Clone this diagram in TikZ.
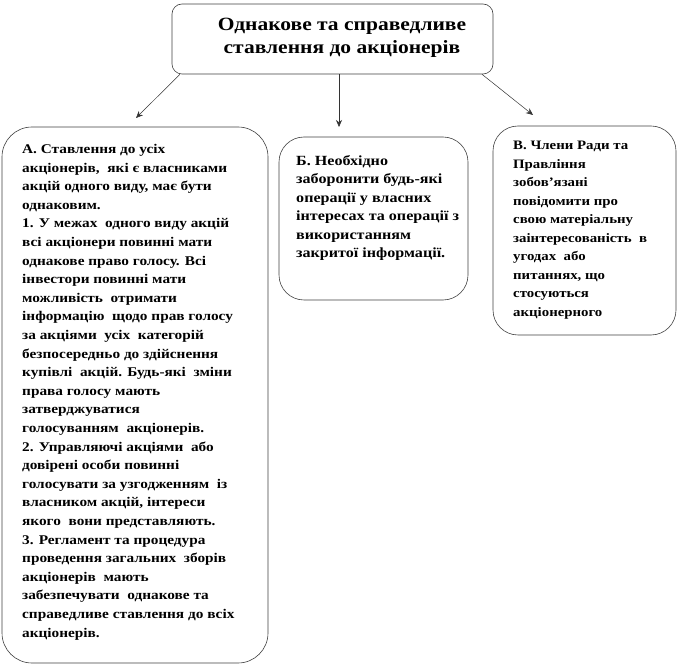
\documentclass[tikz,border=0pt]{standalone}
\usepackage{fontspec}
\setmainfont{Liberation Serif}[FakeStretch=1.15]
\usetikzlibrary{arrows.meta}
\tikzset{
  box/.style={draw=black!75, line width=0.6pt, fill=white},
  body/.style={anchor=north west, inner sep=0pt, align=left},
  conn/.style={draw=black!80, line width=0.5pt, -{Stealth[length=7pt,width=6pt]}},
}
\begin{document}
\begin{tikzpicture}[x=1pt,y=-1pt]
\useasboundingbox (0,0) rectangle (678,668);
% top box
\node[box, rounded corners=10pt, minimum width=321pt, minimum height=70pt] (top) at (332.5,39) {};
\node[align=center, inner sep=0pt, font=\bfseries\fontsize{18.7}{22.5}\selectfont] (toptext) at (342,38)
  {Однакове та справедливе\\ставлення до акціонерів};
% box A
\node[box, rounded corners=30pt, minimum width=266pt, minimum height=536pt] (a) at (135,395) {};
\node[body, font=\bfseries\fontsize{13.3}{18.6}\selectfont] (at) at (22,144) {А. Ставлення до усіх\\
акціонерів, \ які є власниками\\
акцій одного виду, має бути\\
однаковим.\\
1. У межах \ одного виду акцій\\
всі акціонери повинні мати\\
однакове право голосу. Всі\\
інвестори повинні мати\\
можливість \ отримати\\
інформацію \ щодо прав голосу\\
за акціями \ усіх \ категорій\\
безпосередньо до здійснення\\
купівлі \ акцій. Будь-які \ зміни\\
права голосу мають\\
затверджуватися\\
голосуванням \ акціонерів.\\
2. Управляючі акціями \ або\\
довірені особи повинні\\
голосувати за узгодженням \ із\\
власником акцій, інтереси\\
якого \ вони представляють.\\
3. Регламент та процедура\\
проведення загальних \ зборів\\
акціонерів \ мають\\
забезпечувати \ однакове та\\
справедливе ставлення до всіх\\
акціонерів.};
% box B
\node[box, rounded corners=25pt, minimum width=189pt, minimum height=163pt] (b) at (373.5,218.5) {};
\node[body, font=\bfseries\fontsize{14}{18.5}\selectfont] (bt) at (296,155) {Б. Необхідно\\
заборонити будь-які\\
операції у власних\\
інтересах та операції з\\
використанням\\
закритої інформації.};
% box C
\node[box, rounded corners=25pt, minimum width=183pt, minimum height=209pt] (c) at (584.5,230.5) {};
\node[body, font=\bfseries\fontsize{12.9}{18.5}\selectfont] (ct) at (513,141) {В. Члени Ради та\\
Правління\\
зобовʼязані\\
повідомити про\\
свою матеріальну\\
заінтересованість \ в\\
угодах \ або\\
питаннях, що\\
стосуються\\
акціонерного};
% connectors
\coordinate (pa) at (136,118);
\coordinate (pb) at (339,127);
\coordinate (pc) at (533,115);
\draw[conn] (top.south -| 180,0) -- (pa);
\draw[conn] (top.south -| 339,0) -- (pb);
\draw[conn] (top.south -| 482,0) -- (pc);
\end{tikzpicture}
\end{document}
